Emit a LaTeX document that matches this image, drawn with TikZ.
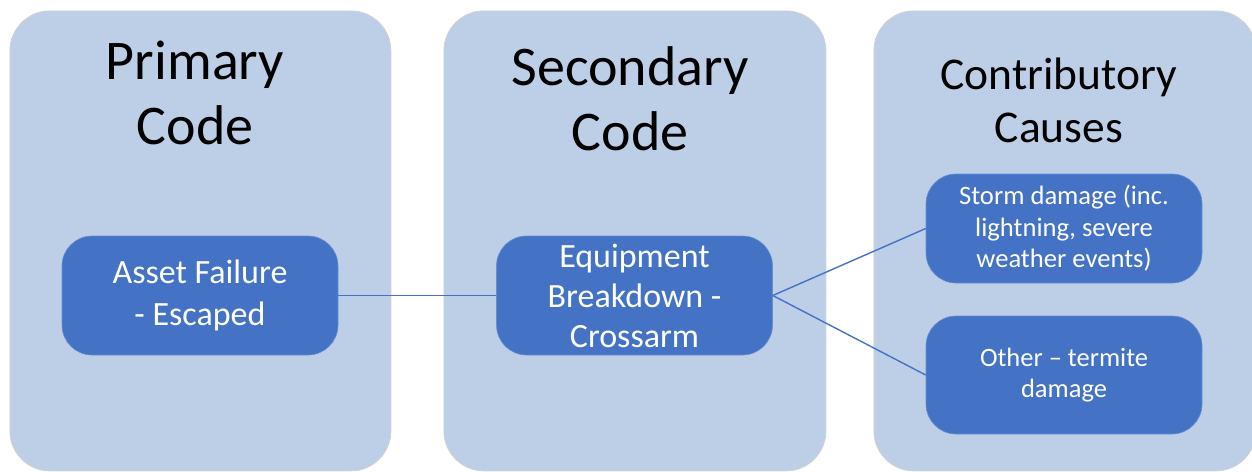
\documentclass[tikz,border=0pt]{standalone}
\usepackage{fontspec}
\setmainfont{Carlito}
\definecolor{panelblue}{RGB}{188,207,231}
\definecolor{boxblue}{RGB}{68,114,196}
\definecolor{panelline}{RGB}{205,210,215}
\tikzset{
  panel/.style={draw=panelline, line width=0.8pt, fill=panelblue, rounded corners=40pt, minimum width=#1, minimum height=460pt, inner sep=0pt},
  codebox/.style={draw=boxblue!80!white, line width=0.6pt, fill=boxblue, rounded corners=30pt, minimum width=276pt, inner sep=0pt, text=white, align=center},
  head/.style={anchor=base, font=\fontsize{56}{64}\selectfont},
  headsmall/.style={anchor=base, font=\fontsize{45.5}{54}\selectfont},
  link/.style={draw=boxblue, line width=1.4pt}
}
\begin{document}
\begin{tikzpicture}[x=1pt,y=-1pt]
\useasboundingbox (0,0) rectangle (1252,471);
\path[fill=white] (0,0) rectangle (1252,471);
% panels
\node[panel=381pt, anchor=north west] (p1) at (9.5,10.5) {};
\node[panel=382pt, anchor=north west] (p2) at (443.5,10.5) {};
\node[panel=382pt, anchor=north west] (p3) at (873.5,10.5) {};
% headings
\node[head] (h1a) at (195,79) {Primary};
\node[head] (h1b) at (195,144) {Code};
\node[head] (h2a) at (630,85) {Secondary};
\node[head] (h2b) at (630,150) {Code};
\node[headsmall] (h3a) at (1059,89) {Contributory};
\node[headsmall] (h3b) at (1059,142) {Causes};
% boxes
\node[codebox, minimum height=119pt, font=\fontsize{34}{42}\selectfont] (b1) at (200,295.5) {Asset Failure\\- Escaped};
\node[codebox, minimum height=119pt, font=\fontsize{34}{40}\selectfont] (b2) at (634.5,295.5) {Equipment\\Breakdown -\\Crossarm};
\node[codebox, minimum height=109pt, font=\fontsize{26.6}{31.5}\selectfont] (b3) at (1064,228.5) {Storm damage (inc.\\lightning, severe\\weather events)};
\node[codebox, minimum height=118pt, font=\fontsize{26.5}{31}\selectfont] (b4) at (1064,375) {Other -- termite\\damage};
% connectors
\draw[link] (b1.east) -- (b2.west);
\draw[link] (b2.east) -- (b3.west);
\draw[link] (b2.east) -- (b4.west);
\end{tikzpicture}
\end{document}
